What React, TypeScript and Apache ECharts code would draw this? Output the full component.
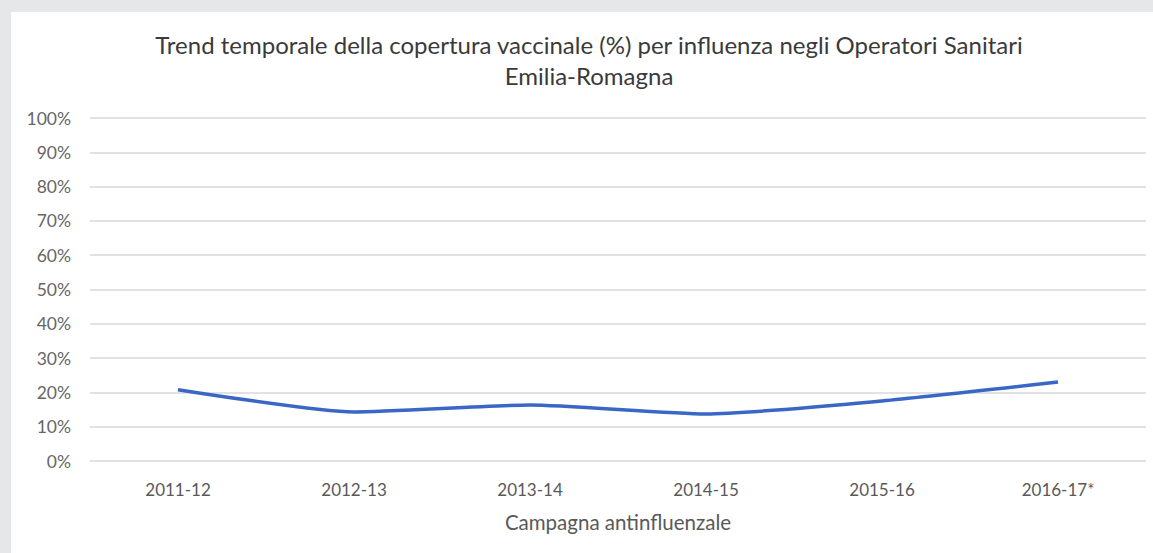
import React, { useEffect, useRef } from "react";
import * as echarts from "echarts";

const categories = ["2011-12", "2012-13", "2013-14", "2014-15", "2015-16", "2016-17*"];
const coverage = [20.8, 14.3, 16.3, 13.7, 17.5, 23.0];
const titleLines = [
  "Trend temporale della copertura vaccinale (%) per influenza negli Operatori Sanitari",
  "Emilia-Romagna",
];
const xAxisName = "Campagna antinfluenzale";

export default function App() {
  const ref = useRef<HTMLDivElement>(null);
  useEffect(() => {
    if (!ref.current) return;
    const chart = echarts.init(ref.current, null, { renderer: "svg" });
    const font = "Lato, 'Open Sans', sans-serif";
    chart.setOption({
      animation: false,
      backgroundColor: "#e6e7e8",
      graphic: [
        {
          type: "rect",
          shape: { x: 11, y: 12, width: 1142, height: 541 },
          style: { fill: "#ffffff" },
          z: -10,
        },
      ],
      title: {
        text: titleLines.join("\n"),
        left: 584,
        textAlign: "center",
        top: 24,
        textStyle: {
          fontFamily: font,
          fontSize: 24,
          fontWeight: "normal",
          color: "#3a3a3a",
          lineHeight: 31,
        },
      },
      grid: { left: 90, right: 7, top: 118, bottom: 92 },
      xAxis: {
        type: "category",
        data: categories,
        boundaryGap: true,
        axisLine: { show: false },
        axisTick: { show: false },
        axisLabel: { color: "#595959", fontSize: 17, fontFamily: font, margin: 20 },
        name: xAxisName,
        nameLocation: "middle",
        nameGap: 50,
        nameTextStyle: { color: "#595959", fontSize: 20.5, fontFamily: font },
      },
      yAxis: {
        type: "value",
        min: 0,
        max: 100,
        interval: 10,
        axisLine: { show: false },
        axisTick: { show: false },
        splitLine: { lineStyle: { color: "#d9d9d9", width: 1.5 } },
        axisLabel: {
          color: "#666666",
          fontSize: 17.5,
          fontFamily: font,
          margin: 19,
          formatter: (v: number) => v + "%",
        },
      },
      series: [
        {
          type: "line",
          data: coverage,
          smooth: 0.2,
          symbol: "none",
          lineStyle: { color: "#3a67c6", width: 3.5 },
        },
      ],
    });
    return () => chart.dispose();
  }, []);
  return (
    <div
      ref={ref}
      style={{ position: "fixed", left: 0, top: 0, width: 1153, height: 553 }}
    />
  );
}
